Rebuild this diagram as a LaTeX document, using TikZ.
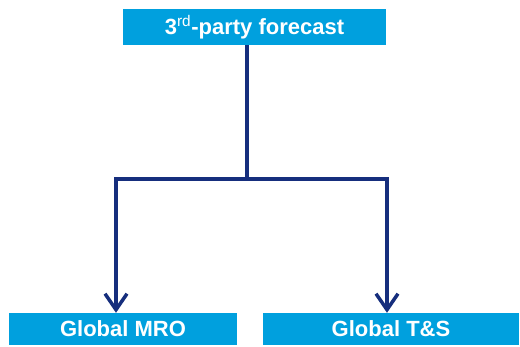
\documentclass[tikz,border=0pt]{standalone}
\usepackage{fontspec}
\setmainfont{Liberation Sans}
\usetikzlibrary{arrows.meta}
\definecolor{boxblue}{RGB}{0,160,222}
\definecolor{navy}{RGB}{22,46,125}
\begin{document}
\begin{tikzpicture}[x=1pt,y=1pt,
  bluebox/.style={fill=boxblue, draw=none, inner sep=0pt, font=\fontsize{22}{24}\selectfont\bfseries, text=white},
  conn/.style={draw=navy, line width=3.5pt},
  arr/.style={conn, -{Straight Barb[length=16pt, width=22pt, line width=3.5pt]}}]
\useasboundingbox (0,0) rectangle (520,346);
\node[bluebox, minimum width=263pt, minimum height=36pt] (top) at (254.5,319) {3\textsuperscript{\mdseries rd}-party forecast};
\node[bluebox, minimum width=228pt, minimum height=32pt] (mro) at (123,17) {Global MRO};
\node[bluebox, minimum width=256pt, minimum height=32pt] (ts) at (391,17) {Global T\&S};
\coordinate (j) at (247,167);
\coordinate (jl) at (116,167);
\coordinate (jr) at (387,167);
\draw[conn] (top.south -| j) -- (j);
\draw[conn, line cap=rect] (jl) -- (jr);
\draw[arr] (jl) -- (jl |- mro.north);
\draw[arr] (jr) -- (jr |- ts.north);
\end{tikzpicture}
\end{document}
